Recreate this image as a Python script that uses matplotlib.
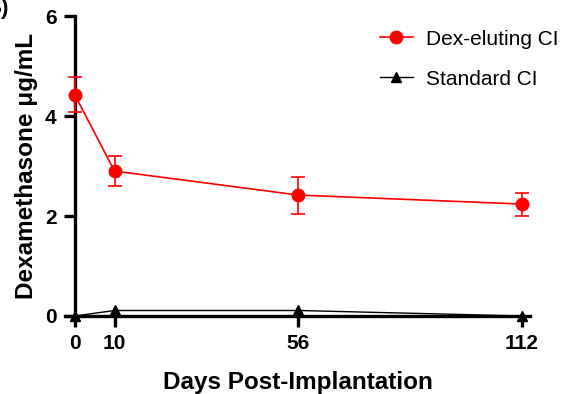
import matplotlib
matplotlib.use("Agg")
import matplotlib.pyplot as plt

plt.rcParams['font.family'] = ['Liberation Sans', 'DejaVu Sans']

days = [0, 10, 56, 112]
dex_mean = [4.43, 2.90, 2.42, 2.24]
dex_err = [0.35, 0.30, 0.37, 0.23]
std_mean = [0.0, 0.11, 0.11, 0.0]

xticks = [0, 10, 56, 112]
yticks = [0, 2, 4, 6]

fig = plt.figure(figsize=(5.62, 3.94), dpi=100)
ax = fig.add_axes([0.1157, 0.198, 0.8273, 0.761])

# red series with error bars
dex = ax.errorbar(days, dex_mean, yerr=dex_err, color='#ff0000', marker='o',
                  markersize=9, linewidth=1.2, elinewidth=1.2, capsize=5,
                  capthick=1.2, clip_on=False, zorder=3)
std_line, = ax.plot(days, std_mean, color='black', marker='^', markersize=7,
                    linewidth=1.0, clip_on=False, zorder=3)

ax.set_xlim(-2.4, 114)
ax.set_ylim(0, 6)
ax.spines['left'].set_position(('data', 0))
ax.spines['top'].set_visible(False)
ax.spines['right'].set_visible(False)
for s in ['left', 'bottom']:
    ax.spines[s].set_linewidth(2.4)

ax.set_xticks(xticks)
ax.set_yticks(yticks)
ax.tick_params(axis='both', direction='out', length=8, width=2.4,
               labelsize=15, pad=5)
for lab in ax.get_xticklabels() + ax.get_yticklabels():
    lab.set_fontweight('bold')

ax.set_xlabel('Days Post-Implantation', fontsize=17.5, fontweight='bold')
ax.xaxis.set_label_coords(0.5, -0.185)
ax.set_ylabel('Dexamethasone μg/mL', fontsize=17.5, fontweight='bold')
ax.yaxis.set_label_coords(-0.058, 0.5)

ax.legend(handles=[dex.lines[0], std_line],
          labels=['Dex-eluting CI', 'Standard CI'],
          loc='upper left', bbox_to_anchor=(361 / 562, 1 - 11 / 394),
          bbox_transform=fig.transFigure, frameon=False, fontsize=15,
          handlelength=1.6, labelspacing=1.0, handletextpad=0.6)

fig.text(0.016, 1.005, 'B)', ha='right', va='top', fontsize=16,
         fontweight='bold')

fig.savefig('out.png', dpi=100)
